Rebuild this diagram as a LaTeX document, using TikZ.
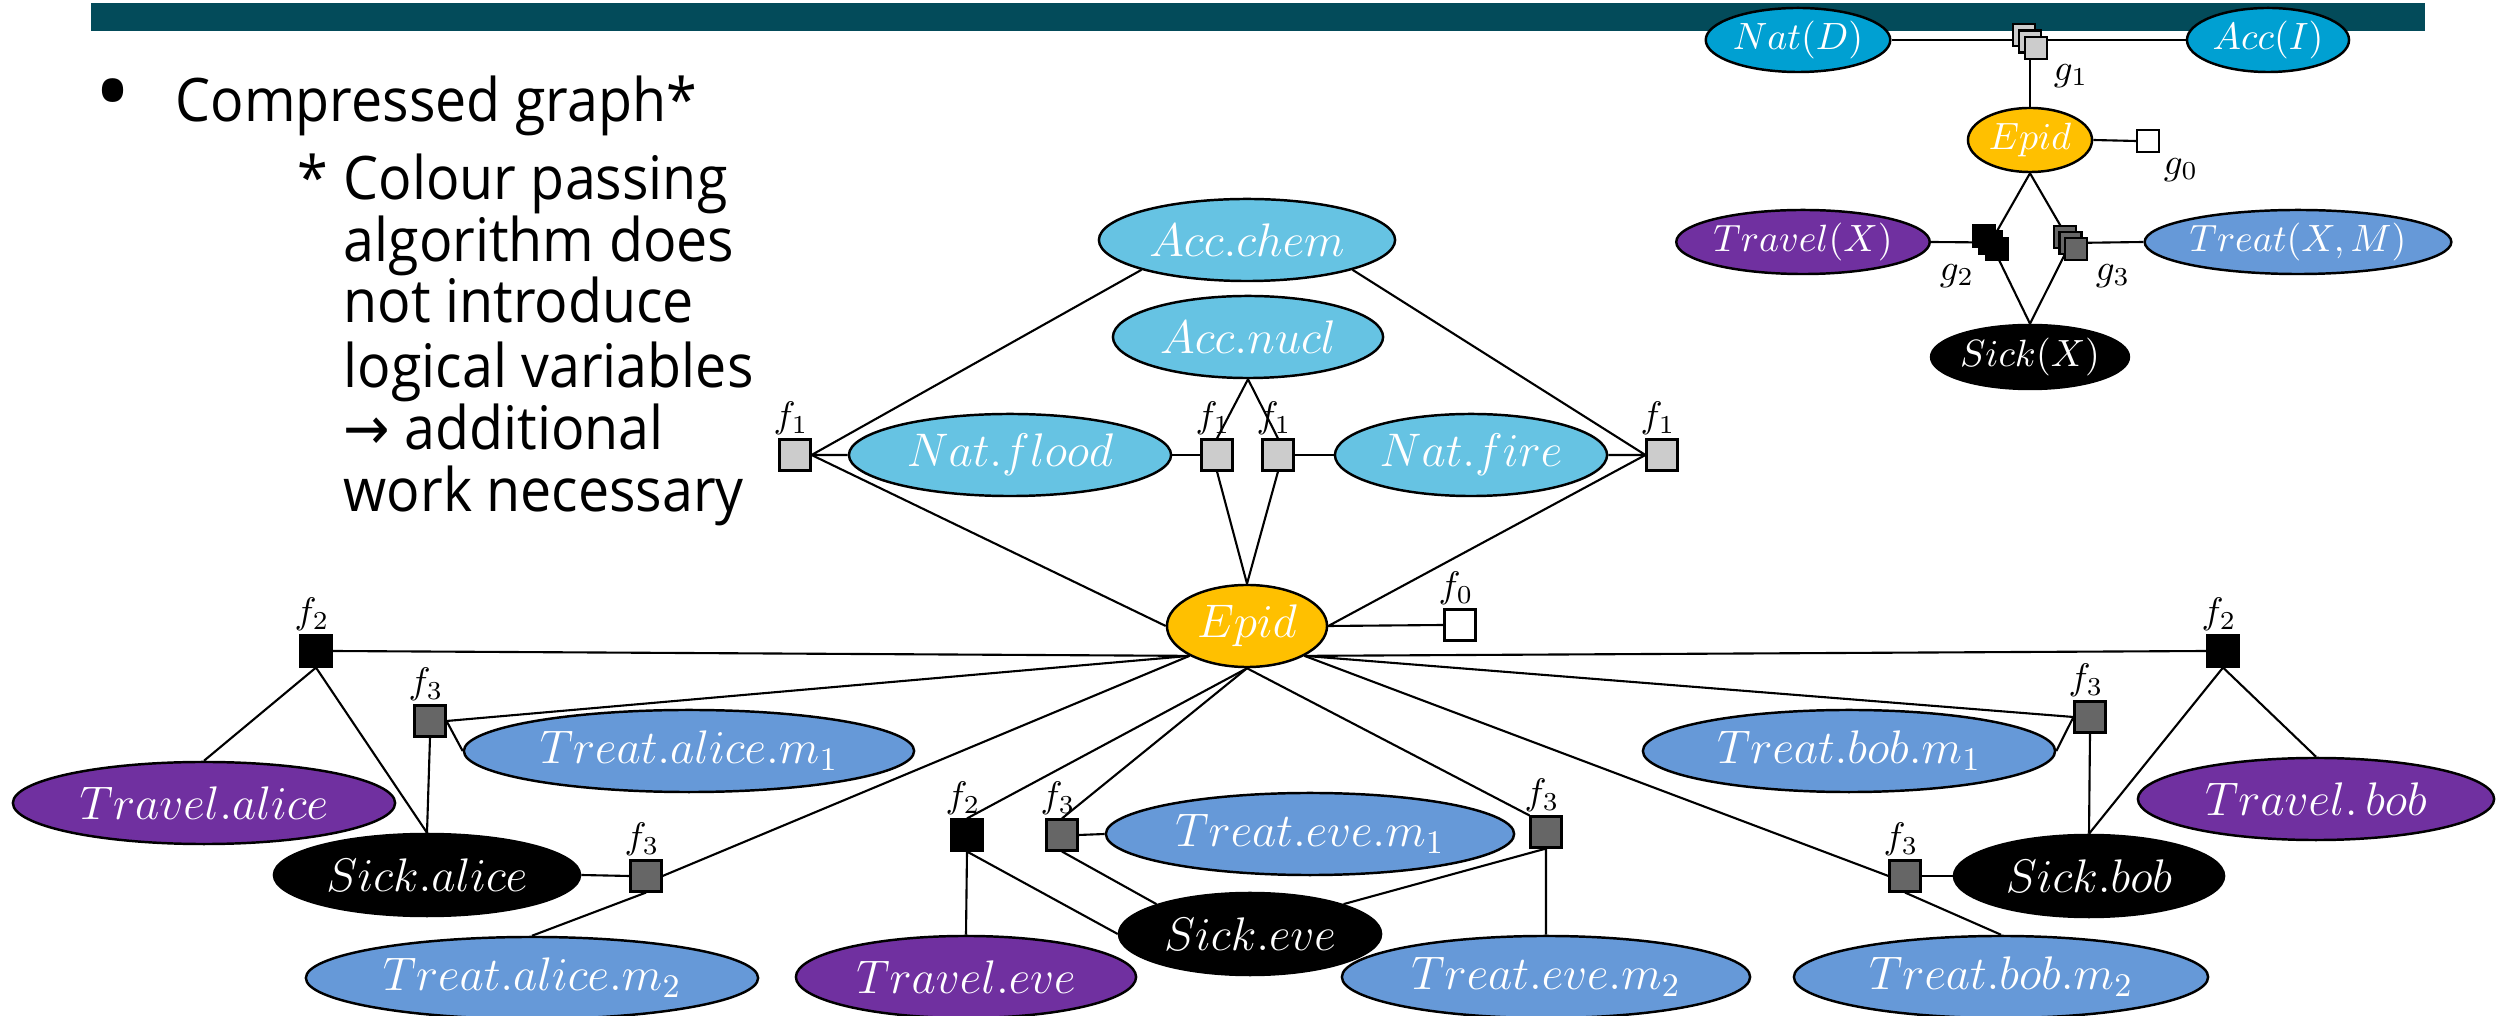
\RequirePackage{fix-cm}
\documentclass[tikz,border=0pt]{standalone}
\usepackage{fontspec}
\setmainfont{Open Sans}[FakeStretch=0.925]
\newfontfamily\bulletfont{Open Sans}
\newfontfamily\arrowfont{DejaVu Sans}[FakeStretch=0.925]
\usetikzlibrary{shapes.geometric,backgrounds}

\definecolor{barteal}{RGB}{3,75,90}
\definecolor{skyblue}{RGB}{102,195,227}
\definecolor{deepblue}{RGB}{0,160,210}
\definecolor{gold}{RGB}{255,192,0}
\definecolor{plum}{RGB}{112,48,160}
\definecolor{treatblue}{RGB}{102,153,216}
\definecolor{lightfac}{RGB}{204,204,204}
\definecolor{darkfac}{RGB}{102,102,102}

\tikzset{
  varnode/.style={ellipse, draw=black, line width=0.7pt, inner sep=0pt,
    text=white, font=\fontsize{13.4}{16}\selectfont},
  smallvar/.style={varnode, font=\fontsize{10.8}{13}\selectfont,
    minimum height=0.64cm},
  bigvar/.style={varnode, minimum height=0.82cm},
  facnode/.style={rectangle, draw=black, line width=0.6pt, inner sep=0pt,
    minimum width=0.31cm, minimum height=0.31cm},
  gfac/.style={rectangle, draw=black, line width=0.6pt, inner sep=0pt,
    minimum width=0.22cm, minimum height=0.22cm},
  flab/.style={inner sep=0pt, anchor=south, font=\fontsize{10.5}{12}\selectfont},
  glab/.style={inner sep=0pt, font=\fontsize{10.5}{12}\selectfont},
  conn/.style={line width=0.6pt},
  bodytext/.style={inner sep=0pt, anchor=base west,
    font=\fontsize{17.07}{17.75}\selectfont},
}

\begin{document}
\begin{tikzpicture}[x=0.01cm, y=-0.01cm]
\useasboundingbox (0,0) rectangle (2496,1016);

% title bar
\fill[barteal] (91,3) rectangle (2425,31);

% bullet text
\node[inner sep=0pt, font=\bulletfont\fontsize{28}{28}\selectfont] (dot) at (113,103) {•};
\node[bodytext] (head) at (175,122) {Compressed graph*};
\node[bodytext] (star) at (297,200) {*};
\node[bodytext] (l1) at (343,200) {Colour passing};
\node[bodytext] (l2) at (343,262) {algorithm does};
\node[bodytext] (l3) at (343,323) {not introduce};
\node[bodytext] (l4) at (343,388) {logical variables};
\node[bodytext] (l5) at (343,450) {{\arrowfont →} additional};
\node[bodytext] (l6) at (343,512) {work necessary};

% ---------- compressed graph (top right) ----------
\node[smallvar, fill=deepblue, minimum width=1.84cm] (NatD) at (1798,40) {$Nat(D)$};
\node[smallvar, fill=deepblue, minimum width=1.62cm] (AccI) at (2268,40) {$Acc(I)$};
\node[smallvar, fill=gold, minimum width=1.24cm] (Epid2) at (2030,140) {$Epid$};
\node[smallvar, fill=plum, minimum width=2.48cm] (TravelX) at (1803,242) {$Travel(X)$};
\node[smallvar, fill=treatblue, minimum width=2.92cm] (TreatXM) at (2298,242) {$Treat(X,M)$};
\node[smallvar, fill=black, minimum width=1.92cm] (SickX) at (2030,357) {$Sick(X)$};

\node[gfac, fill=lightfac] (g1a) at (2024,35) {};
\node[gfac, fill=lightfac] (g1b) at (2030,41.5) {};
\node[gfac, fill=lightfac] (g1c) at (2036,48) {};
\node[gfac, fill=white] (g0) at (2148,141) {};
\node[gfac, fill=black] (g2a) at (1984,236) {};
\node[gfac, fill=black] (g2b) at (1990.5,242.5) {};
\node[gfac, fill=black] (g2c) at (1997,249) {};
\node[gfac, fill=darkfac] (g3a) at (2065,237) {};
\node[gfac, fill=darkfac] (g3b) at (2070.5,243) {};
\node[gfac, fill=darkfac] (g3c) at (2076,249) {};

\node[glab] at (2071,76) {$g_1$};
\node[glab] at (2181,170) {$g_0$};
\node[glab] at (1957,276) {$g_2$};
\node[glab] at (2113,276) {$g_3$};

% ---------- ground graph ----------
\node[bigvar, fill=skyblue, minimum width=2.96cm] (AccChem) at (1247,240) {$Acc.chem$};
\node[bigvar, fill=skyblue, minimum width=2.70cm] (AccNucl) at (1248,337) {$Acc.nucl$};
\node[bigvar, fill=skyblue, minimum width=3.22cm] (NatFlood) at (1010,455) {$Nat.flood$};
\node[bigvar, fill=skyblue, minimum width=2.72cm] (NatFire) at (1471,455) {$Nat.fire$};
\node[bigvar, fill=gold, minimum width=1.60cm] (Epid) at (1247,626) {$Epid$};

\node[bigvar, fill=plum, minimum width=3.82cm] (TravelAlice) at (204,803) {$Travel.alice$};
\node[bigvar, fill=treatblue, minimum width=4.50cm] (TreatAliceA) at (689,751) {$Treat.alice.m_1$};
\node[bigvar, fill=black, minimum width=3.06cm] (SickAlice) at (427,875) {$Sick.alice$};
\node[bigvar, fill=treatblue, minimum width=4.52cm] (TreatAliceB) at (532,978) {$Treat.alice.m_2$};

\node[bigvar, fill=plum, minimum width=3.40cm] (TravelEve) at (966,977) {$Travel.eve$};
\node[bigvar, fill=black, minimum width=2.62cm] (SickEve) at (1250,934) {$Sick.eve$};
\node[bigvar, fill=treatblue, minimum width=4.08cm] (TreatEveA) at (1310,834) {$Treat.eve.m_1$};
\node[bigvar, fill=treatblue, minimum width=4.08cm] (TreatEveB) at (1546,977) {$Treat.eve.m_2$};

\node[bigvar, fill=treatblue, minimum width=4.12cm] (TreatBobA) at (1849,751) {$Treat.bob.m_1$};
\node[bigvar, fill=plum, minimum width=3.56cm] (TravelBob) at (2316,799) {$Travel.\,bob$};
\node[bigvar, fill=black, minimum width=2.70cm] (SickBob) at (2089,876) {$Sick.bob$};
\node[bigvar, fill=treatblue, minimum width=4.14cm] (TreatBobB) at (2001,977) {$Treat.bob.m_2$};

% factors
\node[facnode, fill=lightfac] (f1a) at (795,455) {};
\node[facnode, fill=lightfac] (f1b) at (1217,455) {};
\node[facnode, fill=lightfac] (f1c) at (1278,455) {};
\node[facnode, fill=lightfac] (f1d) at (1662,455) {};
\node[facnode, fill=white] (f0) at (1460,625) {};
\node[facnode, fill=black] (f2a) at (316,651) {};
\node[facnode, fill=black] (f2b) at (2223,651) {};
\node[facnode, fill=black] (f2c) at (967,835) {};
\node[facnode, fill=darkfac] (f3a) at (430,721) {};
\node[facnode, fill=darkfac] (f3b) at (646,876) {};
\node[facnode, fill=darkfac] (f3c) at (1062,835) {};
\node[facnode, fill=darkfac] (f3d) at (1546,832) {};
\node[facnode, fill=darkfac] (f3e) at (2090,717) {};
\node[facnode, fill=darkfac] (f3f) at (1905,876) {};

\foreach \f/\t in {f1a/f_1, f1b/f_1, f1c/f_1, f1d/f_1, f0/f_0, f2a/f_2, f2b/f_2,
    f2c/f_2, f3a/f_3, f3b/f_3, f3c/f_3, f3d/f_3, f3e/f_3, f3f/f_3}
  \node[flab] at ([xshift=-0.04cm, yshift=0.03cm]\f.north) {$\t$};

% connectors
\begin{pgfonlayer}{background}
  % compressed graph
  \draw[conn] (NatD.east) -- (AccI.west);
  \draw[conn] (g1b.center) -- (Epid2.north);
  \draw[conn] (Epid2.east) -- (g0.west);
  \draw[conn] (Epid2.south) -- (g2b.center) -- (SickX.north);
  \draw[conn] (Epid2.south) -- (g3b.center) -- (SickX.north);
  \draw[conn] (TravelX.east) -- (g2b.center);
  \draw[conn] (g3b.center) -- (TreatXM.west);

  % upper part of the ground graph
  \draw[conn] (AccChem.south west) -- (f1a.east) -- (NatFlood.west);
  \draw[conn] (AccChem.south east) -- (f1d.west) -- (NatFire.east);
  \draw[conn] (NatFlood.east) -- (f1b.west);
  \draw[conn] (f1c.east) -- (NatFire.west);
  \draw[conn] (f1b.north) -- (AccNucl.south) -- (f1c.north);
  \draw[conn] (f1b.south) -- (Epid.north) -- (f1c.south);
  \draw[conn] (f1a.east) -- (Epid.west);
  \draw[conn] (f1d.west) -- (Epid.east) -- (f0.west);

  % Epid to the lower factors
  \draw[conn] (Epid.south west) -- (f2a.east);
  \draw[conn] (Epid.south west) -- (f3a.east);
  \draw[conn] (Epid.south west) -- (f3b.east);
  \draw[conn] (Epid.south) -- (f2c.north);
  \draw[conn] (Epid.south) -- (f3c.north);
  \draw[conn] (Epid.south) -- (f3d.north west);
  \draw[conn] (Epid.south east) -- (f2b.west);
  \draw[conn] (Epid.south east) -- (f3e.west);
  \draw[conn] (Epid.south east) -- (f3f.west);

  % alice
  \draw[conn] (TravelAlice.north) -- (f2a.south) -- (SickAlice.north);
  \draw[conn] (f3a.south) -- (SickAlice.north);
  \draw[conn] (f3a.east) -- (TreatAliceA.west);
  \draw[conn] (SickAlice.east) -- (f3b.west);
  \draw[conn] (f3b.south) -- (TreatAliceB.north);

  % eve
  \draw[conn] (TravelEve.north) -- (f2c.south) -- (SickEve.west);
  \draw[conn] (f3c.east) -- (TreatEveA.west);
  \draw[conn] (f3c.south) -- (SickEve.north west);
  \draw[conn] (SickEve.north east) -- (f3d.south) -- (TreatEveB.north);

  % bob
  \draw[conn] (f3e.west) -- (TreatBobA.east);
  \draw[conn] (f3e.south) -- (SickBob.north);
  \draw[conn] (SickBob.north) -- (f2b.south) -- (TravelBob.north);
  \draw[conn] (f3f.east) -- (SickBob.west);
  \draw[conn] (f3f.south) -- (TreatBobB.north);
\end{pgfonlayer}
\end{tikzpicture}
\end{document}
